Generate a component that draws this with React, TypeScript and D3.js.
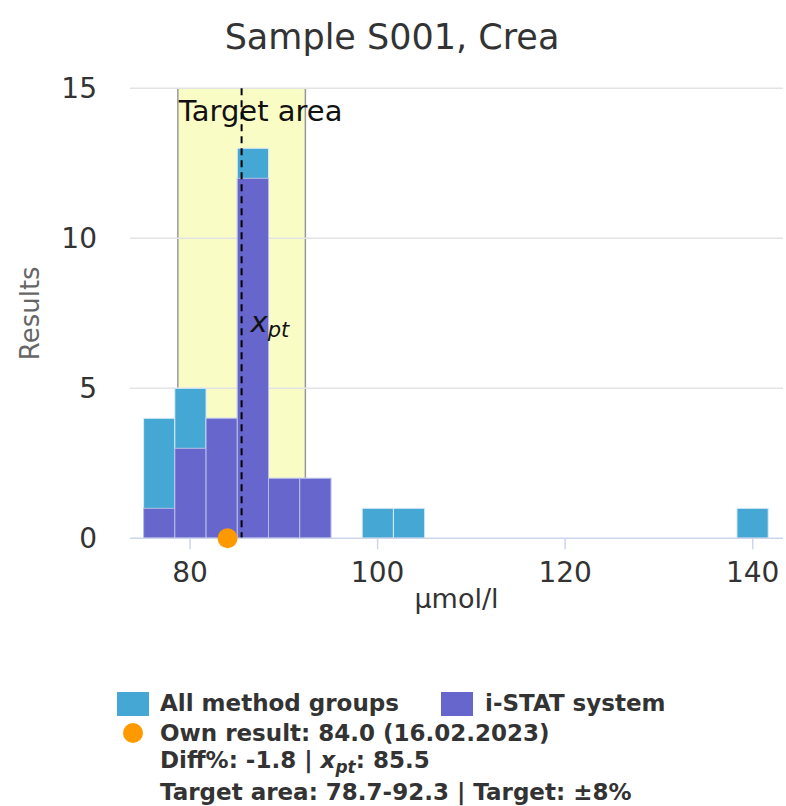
import React from "react";
import * as d3 from "d3";

// Histogram bins (lower edges, µmol/l) and counts per bin
const binLow = [75.05, 78.38, 81.71, 85.04, 88.37, 91.7, 98.36, 101.69, 138.32];
const binWidth = 3.33;
const allMethodCounts = [4, 5, 4, 13, 2, 2, 1, 1, 1];
const istatCounts = [1, 3, 4, 12, 2, 2, 0, 0, 0];

const xTicks = [80, 100, 120, 140];
const yTicks = [0, 5, 10, 15];

const targetLow = 78.7;
const targetHigh = 92.3;
const xpt = 85.5;
const ownResult = 84.0;

const W = 786;
const H = 806;
const FONT = "'DejaVu Sans', Verdana, sans-serif";

export default function App() {
  const x = d3.scaleLinear().domain([73.6, 143.23]).range([130, 783]);
  const y = d3.scaleLinear().domain([0, 15]).range([538.3, 88.3]);

  const cyan = "#44a7d4";
  const purple = "#6666cc";

  return (
    <svg
      width={W}
      height={H}
      style={{ position: "absolute", left: 0, top: 0, background: "#fff" }}
      fontFamily={FONT}
    >
      <rect x={0} y={0} width={W} height={H} fill="#fff" />
      {/* title */}
      <text x={392} y={49} textAnchor="middle" fontSize={35} fill="#333">
        Sample S001, Crea
      </text>

      {/* target band */}
      <rect
        x={x(targetLow)}
        y={y(15)}
        width={x(targetHigh) - x(targetLow)}
        height={y(0) - y(15)}
        fill="#fafcc6"
      />
      <line x1={x(targetLow)} x2={x(targetLow)} y1={y(15)} y2={y(0)} stroke="#999" strokeWidth={1.5} />
      <line x1={x(targetHigh)} x2={x(targetHigh)} y1={y(15)} y2={y(0)} stroke="#999" strokeWidth={1.5} />

      {/* grid */}
      {yTicks.filter((t) => t > 0).map((t) => (
        <line key={t} x1={130} x2={783} y1={y(t)} y2={y(t)} stroke="#e3e3e3" strokeWidth={1.5} />
      ))}

      {/* all method groups */}
      {binLow.map((b, i) =>
        allMethodCounts[i] > 0 ? (
          <rect
            key={"a" + i}
            x={x(b)}
            y={y(allMethodCounts[i])}
            width={x(b + binWidth) - x(b)}
            height={y(0) - y(allMethodCounts[i])}
            fill={cyan}
            stroke="#dbeaf5"
            strokeWidth={1}
          />
        ) : null
      )}
      {/* i-STAT system */}
      {binLow.map((b, i) =>
        istatCounts[i] > 0 ? (
          <rect
            key={"p" + i}
            x={x(b)}
            y={y(istatCounts[i])}
            width={x(b + binWidth) - x(b)}
            height={y(0) - y(istatCounts[i])}
            fill={purple}
            stroke="#b8bde8"
            strokeWidth={1}
          />
        ) : null
      )}

      {/* "Target area" label */}
      <text x={x(targetLow) + 1} y={121} fontSize={29} fill="#111">
        Target area
      </text>

      {/* x_pt line */}
      <line
        x1={x(xpt)}
        x2={x(xpt)}
        y1={y(15)}
        y2={y(0)}
        stroke="#000"
        strokeWidth={2}
        strokeDasharray="7,5"
      />
      <text x={x(xpt) + 9} y={332} fontSize={29} fill="#111" fontStyle="italic">
        x
        <tspan fontSize={21} dy={5}>
          pt
        </tspan>
      </text>

      {/* x axis */}
      <line x1={130} x2={783} y1={y(0)} y2={y(0)} stroke="#ccd6eb" strokeWidth={1.5} />
      {xTicks.map((t) => (
        <g key={t}>
          <line x1={x(t)} x2={x(t)} y1={y(0)} y2={y(0) + 11} stroke="#ccd6eb" strokeWidth={1.5} />
          <text x={x(t)} y={582} textAnchor="middle" fontSize={28} fill="#333">
            {t}
          </text>
        </g>
      ))}
      <text x={456.5} y={608} textAnchor="middle" fontSize={27} fill="#333">
        µmol/l
      </text>

      {/* y axis */}
      {yTicks.map((t) => (
        <text key={t} x={97} y={y(t) + 10} textAnchor="end" fontSize={28} fill="#333">
          {t}
        </text>
      ))}
      <text
        transform={`translate(39, ${(y(0) + y(15)) / 2}) rotate(-90)`}
        textAnchor="middle"
        fontSize={26}
        fill="#666"
      >
        Results
      </text>

      {/* own result marker */}
      <circle cx={x(ownResult)} cy={y(0)} r={10} fill="#ff9900" />

      {/* legend */}
      <g fontSize={23} fontWeight="bold" fill="#333">
        <rect x={117} y={692} width={32} height={24} fill={cyan} />
        <text x={160} y={711}>All method groups</text>
        <rect x={441} y={692} width={32} height={24} fill={purple} />
        <text x={485} y={711}>i-STAT system</text>
        <circle cx={133} cy={733} r={10} fill="#ff9900" />
        <text x={160} y={741}>Own result: 84.0 (16.02.2023)</text>
        <text x={160} y={768}>
          Diff%: -1.8 |{" "}
          <tspan fontStyle="italic">x</tspan>
          <tspan fontStyle="italic" fontSize={17} dy={5}>
            pt
          </tspan>
          <tspan dy={-5}>: 85.5</tspan>
        </text>
        <text x={160} y={800}>Target area: 78.7-92.3 | Target: ±8%</text>
      </g>
    </svg>
  );
}
